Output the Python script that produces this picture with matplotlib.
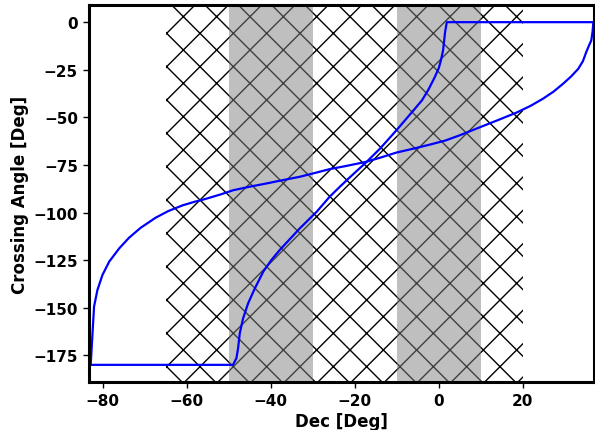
import matplotlib
matplotlib.use("Agg")
import matplotlib.pyplot as plt

# curve that stays flat at -180 / 0 at the ends
dec_a = [-83.2, -49.0, -48.2, -47.8, -47.4, -46.6, -45.4, -43.8, -41.8, -39.9,
         -37.9, -35.5, -33.1, -29.1, -26.0, -23.6, -21.2, -17.2, -14.0, -10.1,
         -6.1, -4.0, -2.5, -1.0, 0.0, 0.5, 1.0, 1.5, 1.9, 36.9]
ang_a = [-180, -180, -176.5, -171.2, -163.4, -155.5, -147.6, -139.8, -131.0, -125.0,
         -119.7, -114.0, -108.3, -99.6, -91.7, -86.5, -81.5, -73.4, -66.4, -56.8,
         -46.5, -41.0, -35.5, -29.0, -24.0, -20.0, -14.9, -5.0, 0, 0]

# slow s-shaped curve
dec_b = [-82.9, -82.1, -81.3, -80.1, -78.5, -76.1, -73.8, -71.0, -67.5, -64.5,
         -61.0, -58.1, -55.8, -52.0, -49.0, -45.0, -41.0, -37.0, -33.1, -29.5,
         -26.0, -22.0, -17.6, -14.0, -10.1, -6.0, -2.1, 1.5, 5.0, 10.0,
         14.0, 18.5, 21.8, 24.8, 27.3, 29.6, 31.5, 33.2, 34.3, 35.1,
         35.8, 36.3, 36.6, 36.8]
ang_b = [-180, -149.4, -140.7, -132.8, -125.8, -118.8, -113.3, -108.0, -102.8, -99.3,
         -96.2, -94.3, -93.0, -90.5, -88.3, -86.4, -84.7, -82.9, -81.2, -79.2,
         -77.2, -75.5, -73.5, -71.2, -68.5, -66.4, -64.3, -62.2, -59.4, -55.0,
         -51.5, -47.5, -44.0, -40.2, -36.5, -32.3, -28.5, -24.5, -20.5, -15.7,
         -12.0, -9.6, -5.0, 0]

hatch_band = (-65, 20)
gray_bands = [(-50, -30), (-10, 10)]
xticks = [-80, -60, -40, -20, 0, 20]
yticks = [0, -25, -50, -75, -100, -125, -150, -175]

fig, ax = plt.subplots(figsize=(5.95, 4.31), dpi=100)
fig.subplots_adjust(left=0.1496, right=0.998, bottom=0.1114, top=0.986)

ax.axvspan(*hatch_band, facecolor="none", edgecolor="k", hatch="x", linewidth=0)
for lo, hi in gray_bands:
    ax.axvspan(lo, hi, color="gray", alpha=0.5, linewidth=0)

ax.plot(dec_a, ang_a, color="blue", lw=1.6)
ax.plot(dec_b, ang_b, color="blue", lw=1.6)

ax.set_xlim(-83.3, 36.9)
ax.set_ylim(-189, 9)
ax.set_xticks(xticks)
ax.set_yticks(yticks)
ax.set_xlabel("Dec [Deg]", fontsize=12, fontweight="bold", labelpad=3)
ax.set_ylabel("Crossing Angle [Deg]", fontsize=12, fontweight="bold", labelpad=3)
ax.tick_params(labelsize=11, width=1, length=4.5, pad=3.5)
for lbl in ax.get_xticklabels() + ax.get_yticklabels():
    lbl.set_fontweight("bold")
for sp in ax.spines.values():
    sp.set_linewidth(2.2)

fig.savefig("out.png", dpi=100)
